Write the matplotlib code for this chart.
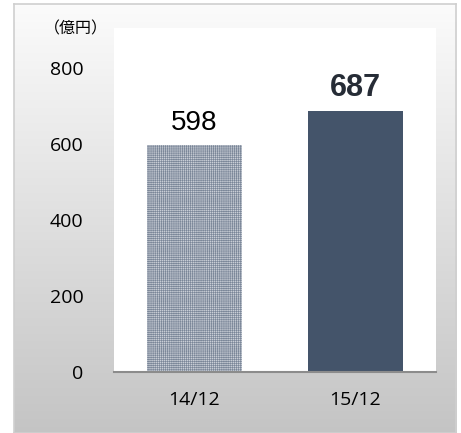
import numpy as np
import matplotlib
matplotlib.use("Agg")
import matplotlib.pyplot as plt

categories = ["14/12", "15/12"]
values = [598, 687]
yticks = [0, 200, 400, 600, 800]
unit_label = "（億円）"

W, H = 461, 433
fig = plt.figure(figsize=(W / 100, H / 100), dpi=100)
fig.patch.set_facecolor("white")

# gradient background frame
bg = fig.add_axes([14 / W, 0, (456 - 14) / W, (433 - 4) / H])
grad = np.linspace(0.985, 0.77, 256).reshape(-1, 1)
bg.imshow(np.dstack([grad, grad, grad]), aspect="auto", extent=[0, 1, 0, 1], origin="upper")
bg.set_xticks([]); bg.set_yticks([])
for s in bg.spines.values():
    s.set_color("#cfcfcf"); s.set_linewidth(1.2)

ax = fig.add_axes([114 / W, (H - 372) / H, (436 - 114) / W, (372 - 28) / H])
ax.set_facecolor("white")
x = np.arange(len(categories))
plt.rcParams["hatch.linewidth"] = 0.45
b1 = ax.bar(x[0], values[0], width=0.59, color="#c9ced6", edgecolor="#7a8698",
            hatch="++++++++", linewidth=0)
b2 = ax.bar(x[1], values[1], width=0.59, color="#44546A", linewidth=0)

ax.text(x[0], values[0] + 22, f"{values[0]}", ha="center", va="bottom",
        fontsize=20, family="Liberation Sans", color="black")
ax.text(x[1], values[1] + 22, f"{values[1]}", ha="center", va="bottom",
        fontsize=22, family="Liberation Sans", fontweight="bold", color="#262c36")

ax.set_xlim(-0.5, 1.5)
ax.set_ylim(0, 905)
ax.set_yticks(yticks)
ax.set_yticklabels([str(t) for t in yticks], fontsize=14, family="Open Sans")
ax.set_xticks(x)
ax.set_xticklabels(categories, fontsize=14, family="Open Sans")
ax.tick_params(axis="y", length=0, pad=22)
ax.tick_params(axis="x", length=0, pad=14)
for s in ["top", "right", "left"]:
    ax.spines[s].set_visible(False)
ax.spines["bottom"].set_color("#8c8c8c")
ax.spines["bottom"].set_linewidth(1.5)

fig.text(44 / W, 1 - 29 / H, unit_label, fontsize=11.5, family=["Noto Sans CJK JP", "DejaVu Sans"],
         ha="left", va="center", color="black")

fig.savefig("out.png", dpi=100)
